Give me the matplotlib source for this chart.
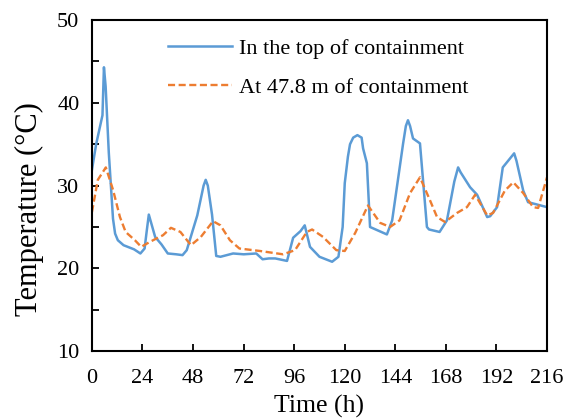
"""Containment temperature history: top of containment vs. 47.8 m elevation."""
import numpy as np
import matplotlib
matplotlib.use("Agg")
import matplotlib.pyplot as plt
import matplotlib.ticker as mticker

# ── data (time in h, temperature in °C) ──────────────────────────────────────
top_t = [0, 2, 5, 5.7, 6.5, 8, 10, 11, 12.3, 15, 20, 23, 25, 26, 27, 28, 30,
         33, 36, 40, 43, 45, 50, 53, 54, 55, 57, 59, 61, 67, 72, 78, 81, 84,
         87, 92.6, 95.5, 99, 101, 103.5, 108, 114, 117, 119, 120, 121.5,
         122.5, 124, 126, 128, 128.7, 130.5, 132, 140, 142.5, 147.7, 149,
         150, 151, 152.4, 155.7, 159, 160, 165, 168.5, 172, 173.8, 175,
         179.5, 182.8, 187.6, 189, 192.3, 195, 198.5, 200.4, 201.5, 204.7,
         207, 216]
top_T = [31.9, 35.0, 38.5, 44.3, 42.0, 34.0, 26.0, 24.2, 23.4, 22.8, 22.3,
         21.8, 22.4, 24.5, 26.5, 25.6, 23.8, 22.9, 21.8, 21.7, 21.6, 22.2,
         26.4, 30.0, 30.7, 30.0, 26.5, 21.5, 21.4, 21.8, 21.7, 21.8, 21.1,
         21.2, 21.2, 20.9, 23.7, 24.5, 25.2, 22.6, 21.4, 20.8, 21.4, 25.0,
         30.3, 33.5, 35.0, 35.8, 36.1, 35.8, 34.5, 32.7, 25.0, 24.1, 25.8,
         35.1, 37.2, 37.9, 37.2, 35.7, 35.1, 25.0, 24.7, 24.4, 25.8, 30.5,
         32.2, 31.6, 29.8, 28.9, 26.2, 26.3, 27.4, 32.2, 33.3, 33.9, 33.0,
         29.4, 28.0, 27.4]

mid_t = [0, 2.8, 6.6, 10, 13.3, 16, 20.4, 23.4, 27.5, 31.3, 33.7, 37.5, 42,
         47, 51.7, 57.5, 61, 65.5, 70, 79.8, 90.7, 96.4, 102, 104.5, 109.7,
         116, 120, 125, 131, 136.8, 141.5, 146, 151, 155.7, 160.5, 163.8,
         167.6, 173.3, 178, 181.9, 187.6, 190.4, 196, 200, 204.7, 209.4,
         211.8, 216]
mid_T = [26.8, 30.7, 32.2, 29.5, 26.2, 24.4, 23.4, 22.6, 23.2, 23.7, 24.0,
         24.9, 24.4, 22.8, 23.8, 25.7, 25.2, 23.4, 22.4, 22.1, 21.7, 22.2,
         24.4, 24.7, 23.8, 22.2, 22.1, 24.3, 27.6, 25.5, 25.0, 25.8, 29.1,
         31.0, 28.2, 26.2, 25.6, 26.7, 27.4, 28.9, 26.4, 26.7, 29.4, 30.4,
         29.1, 27.4, 27.3, 31.0]

LABELS = ["In the top of containment", "At 47.8 m of containment"]
XTICKS = np.arange(0, 217, 24)

plt.rcParams["font.family"] = ["Liberation Serif", "DejaVu Serif"]

fig = plt.figure(figsize=(5.71, 4.19), dpi=100)
ax = fig.add_axes([0.161, 0.162, 0.797, 0.790])

ax.plot(top_t, top_T, color="#5B9BD5", lw=1.8, label=LABELS[0],
        solid_joinstyle="round")
ax.plot(mid_t, mid_T, color="#ED7D31", lw=1.7, ls=(0, (3, 1.5)),
        label=LABELS[1])

ax.set_xlim(0, 216)
ax.set_ylim(10, 50)
ax.set_xticks(XTICKS)
ax.yaxis.set_major_locator(mticker.MultipleLocator(10))
ax.yaxis.set_minor_locator(mticker.MultipleLocator(5))
ax.tick_params(axis="both", which="both", direction="in", labelsize=16,
               width=1.3, top=False, right=False)
ax.tick_params(axis="both", which="major", length=5)
ax.tick_params(axis="y", which="minor", length=5)
ax.tick_params(axis="x", pad=13)
ax.tick_params(axis="y", pad=9)
for s in ax.spines.values():
    s.set_linewidth(1.5)

ax.set_xlabel("Time (h)", fontsize=18.5, labelpad=5)
ax.set_ylabel("Temperature (°C)", fontsize=22, labelpad=4)
ax.yaxis.set_label_coords(-0.105, 0.43)

ax.legend(loc="upper left", bbox_to_anchor=(0.167, 0.945), frameon=False,
          fontsize=16, handlelength=2.9, handletextpad=0.3, labelspacing=0.83,
          borderpad=0, borderaxespad=0)

fig.savefig("out.png", dpi=100)
